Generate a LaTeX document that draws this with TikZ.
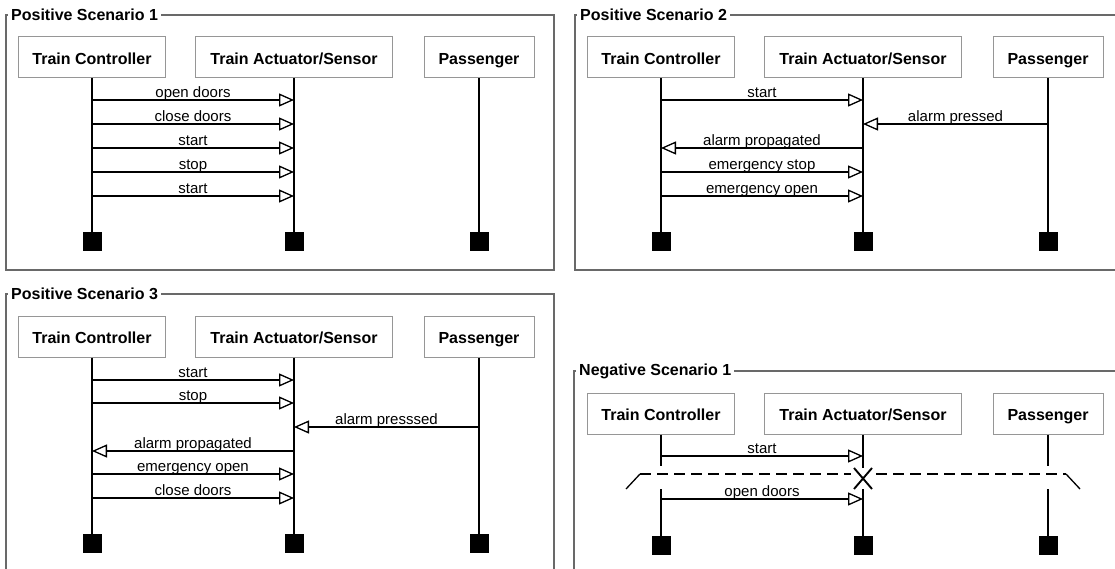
\documentclass[tikz,border=0pt]{standalone}
\usepackage{fontspec}
\setmainfont{Liberation Sans}
\usetikzlibrary{arrows.meta}

\definecolor{framegray}{RGB}{105,105,105}
\definecolor{boxgray}{RGB}{150,150,150}

\tikzset{
  actor/.style={draw=boxgray, line width=1pt, minimum height=41pt, inner sep=0pt,
    text height=15pt, text depth=1pt,
    font=\bfseries\fontsize{16}{19}\selectfont},
  lifeline/.style={line width=1.8pt},
  endbox/.style={fill=black, minimum size=19pt, inner sep=0pt, anchor=north},
  msg/.style={line width=1.5pt,
    -{Triangle[length=15pt,width=13pt,fill=white,line width=1.3pt]}},
  msglabel/.style={anchor=base, yshift=2.5pt, inner sep=0pt,
    font=\fontsize{15}{18}\selectfont},
  scframe/.style={draw=framegray, line width=1.2pt},
  sctitle/.style={fill=white, anchor=west, inner sep=3pt,
    font=\bfseries\fontsize{16}{19}\selectfont},
  cutline/.style={line width=1.5pt, dash pattern=on 11pt off 6pt},
  cutend/.style={line width=1.3pt},
  destroy/.style={line width=1.9pt},
}

% three participants of one scenario, prefixed by #1
\newcommand\sdactors[1]{%
  \node[actor, minimum width=147pt] (#1tc) at (92,57.5) {Train Controller};
  \node[actor, minimum width=197pt] (#1ta) at (294,57.5) {Train Actuator/Sensor};
  \node[actor, minimum width=110pt] (#1pa) at (479,57.5) {Passenger};
}
% end markers at height #2
\newcommand\sdtermini[2]{%
  \coordinate (#1bot) at (0,#2);
  \node[endbox] (#1tcend) at (#1tc |- #1bot) {};
  \node[endbox] (#1taend) at (#1ta |- #1bot) {};
  \node[endbox] (#1paend) at (#1pa |- #1bot) {};
}
% full lifelines
\newcommand\sdlifelines[1]{%
  \draw[lifeline] (#1tc.south) -- (#1tcend.north);
  \draw[lifeline] (#1ta.south) -- (#1taend.north);
  \draw[lifeline] (#1pa.south) -- (#1paend.north);
}
% message: prefix, row name, y, from, to, label
\newcommand\sdmsg[6]{%
  \coordinate (#1#2) at (0,#3);
  \draw[msg] (#1#4 |- #1#2) -- node[msglabel]{#6} (#1#5 |- #1#2);
}

\begin{document}
\begin{tikzpicture}[x=1pt, y=-1pt]
\clip (0,0) rectangle (1115,569);
\fill[white] (0,0) rectangle (1115,569);

% ---------------- Positive Scenario 1
\begin{scope}
  \draw[scframe] (6,15) rectangle (554,270);
  \node[sctitle] (ta) at (8,15) {Positive Scenario 1};
  \sdactors{a}
  \sdtermini{a}{232}
  \sdlifelines{a}
  \sdmsg{a}{r1}{100}{tc}{ta}{open doors}
  \sdmsg{a}{r2}{124}{tc}{ta}{close doors}
  \sdmsg{a}{r3}{148}{tc}{ta}{start}
  \sdmsg{a}{r4}{172}{tc}{ta}{stop}
  \sdmsg{a}{r5}{196}{tc}{ta}{start}
\end{scope}

% ---------------- Positive Scenario 2
\begin{scope}[shift={(569,0)}]
  \draw[scframe] (6,15) rectangle (570,270);
  \node[sctitle] (tb) at (8,15) {Positive Scenario 2};
  \sdactors{b}
  \sdtermini{b}{232}
  \sdlifelines{b}
  \sdmsg{b}{r1}{100}{tc}{ta}{start}
  \sdmsg{b}{r2}{124}{pa}{ta}{alarm pressed}
  \sdmsg{b}{r3}{148}{ta}{tc}{alarm propagated}
  \sdmsg{b}{r4}{172}{tc}{ta}{emergency stop}
  \sdmsg{b}{r5}{196}{tc}{ta}{emergency open}
\end{scope}

% ---------------- Positive Scenario 3
\begin{scope}[shift={(0,279)}]
  \draw[scframe] (6,15) rectangle (554,320);
  \node[sctitle] (tc) at (8,15) {Positive Scenario 3};
  \sdactors{c}
  \sdtermini{c}{255}
  \sdlifelines{c}
  \sdmsg{c}{r1}{101}{tc}{ta}{start}
  \sdmsg{c}{r2}{124}{tc}{ta}{stop}
  \sdmsg{c}{r3}{148}{pa}{ta}{alarm presssed}
  \sdmsg{c}{r4}{172}{ta}{tc}{alarm propagated}
  \sdmsg{c}{r5}{195}{tc}{ta}{emergency open}
  \sdmsg{c}{r6}{219}{tc}{ta}{close doors}
\end{scope}

% ---------------- Negative Scenario 1
\begin{scope}[shift={(569,356)}]
  \draw[scframe] (5,15) rectangle (570,320);
  \node[sctitle] (td) at (7,15) {Negative Scenario 1};
  \sdactors{d}
  \sdtermini{d}{180}
  % lifelines broken by the cut
  \coordinate (dcuttop) at (0,110);
  \coordinate (dcutbot) at (0,133);
  \coordinate (dxtop) at (0,112);
  \draw[lifeline] (dtc.south) -- (dtc |- dcuttop);
  \draw[lifeline] (dtc |- dcutbot) -- (dtcend.north);
  \draw[lifeline] (dpa.south) -- (dpa |- dcuttop);
  \draw[lifeline] (dpa |- dcutbot) -- (dpaend.north);
  \draw[lifeline] (dta.south) -- (dta |- dxtop);
  \draw[lifeline] (dta |- dcutbot) -- (dtaend.north);
  % cut line with slanted ends
  \coordinate (dcl) at (71,118);
  \coordinate (dcr) at (497,118);
  \coordinate (dxl) at (282,118);
  \coordinate (dxr) at (307,118);
  \draw[cutline] (dcl) -- (dxl);
  \draw[cutline] (dxr) -- (dcr);
  \draw[cutend] (dcl) -- ++(-14,15);
  \draw[cutend] (dcr) -- ++(14,15);
  % destruction mark on the actuator lifeline
  \coordinate (dx) at (294,122.5);
  \draw[destroy] ([shift={(-9,-10.5)}]dx) -- ([shift={(9,10.5)}]dx);
  \draw[destroy] ([shift={(-9,10.5)}]dx) -- ([shift={(9,-10.5)}]dx);
  \sdmsg{d}{r1}{100}{tc}{ta}{start}
  \sdmsg{d}{r2}{143}{tc}{ta}{open doors}
\end{scope}

\end{tikzpicture}
\end{document}
